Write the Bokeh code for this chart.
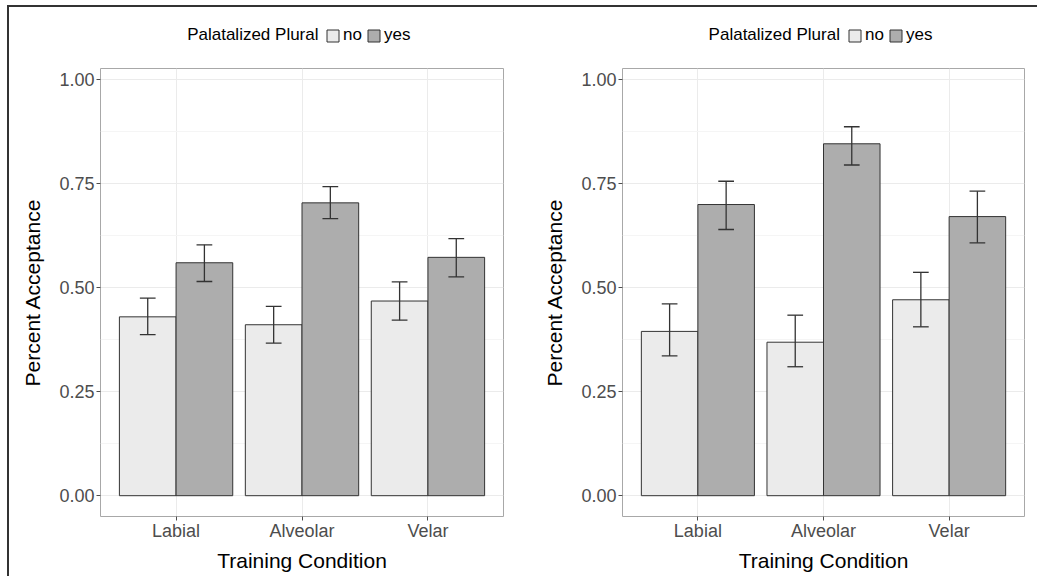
from bokeh.plotting import figure
from bokeh.layouts import row, column
from bokeh.models import (FixedTicker, Legend, LegendItem, Label, Range1d,
                          ColumnDataSource)
from bokeh.embed import file_html
from bokeh.resources import INLINE

categories = ["Labial", "Alveolar", "Velar"]
groups = ["no", "yes"]
legend_title = "Palatalized Plural"
x_title = "Training Condition"
y_title = "Percent Acceptance"
y_ticks = [0.0, 0.25, 0.5, 0.75, 1.0]
y_minor = [0.125, 0.375, 0.625, 0.875]
y_tick_labels = ["0.00", "0.25", "0.50", "0.75", "1.00"]

left_no = [0.430, 0.411, 0.468]
left_no_lower = [0.387, 0.367, 0.422]
left_no_upper = [0.475, 0.455, 0.514]
left_yes = [0.560, 0.704, 0.573]
left_yes_lower = [0.515, 0.666, 0.526]
left_yes_upper = [0.603, 0.743, 0.618]

right_no = [0.395, 0.369, 0.471]
right_no_lower = [0.336, 0.310, 0.406]
right_no_upper = [0.461, 0.434, 0.537]
right_yes = [0.700, 0.846, 0.671]
right_yes_lower = [0.640, 0.795, 0.608]
right_yes_upper = [0.756, 0.887, 0.732]

FONT = "Liberation Sans"
NO_COLOR = "#ebebeb"
YES_COLOR = "#adadad"
EDGE = "#333333"
COLORS = [NO_COLOR, YES_COLOR]
LEG_H = 67


def make_legend(width, series_vals):
    # strip above the panel; its frame is aligned with the panel's frame
    lf = figure(width=width, height=LEG_H, output_backend="svg",
                toolbar_location=None, x_range=Range1d(0, 403),
                y_range=Range1d(0, LEG_H), x_axis_type=None, y_axis_type=None,
                min_border=0, min_border_top=0, min_border_bottom=0)
    lf.outline_line_color = None
    lf.background_fill_alpha = 0
    lf.border_fill_alpha = 0
    lf.grid.visible = False
    pos = [i + 1 for i in range(len(categories))]
    items = []
    for name, col, vals in zip(groups, COLORS, series_vals):
        r = lf.vbar(x=pos, top=vals, width=0.45, fill_color=col,
                    line_color=EDGE, line_width=1, visible=False)
        items.append(LegendItem(label=name, renderers=[r]))
    legend = Legend(items=items, orientation="horizontal",
                    location=(225, LEG_H - 45), padding=0, margin=0,
                    spacing=4, label_standoff=3, glyph_width=15,
                    glyph_height=15, label_height=15, label_width=0,
                    label_text_font=FONT, label_text_font_size="17px",
                    label_text_color="black", background_fill_alpha=0,
                    border_line_color=None, inactive_fill_alpha=0)
    lf.add_layout(legend, "center")
    lf.add_layout(Label(x=218, y=LEG_H - 34, text=legend_title,
                        text_align="right", text_baseline="middle",
                        text_font=FONT, text_font_size="17px",
                        text_color="black"))
    return lf


def make_panel(no, no_lo, no_hi, yes, yes_lo, yes_hi, width, bl, br):
    p = figure(width=width, height=576 - LEG_H, output_backend="svg",
               toolbar_location=None, x_range=Range1d(0.4, 3.6),
               y_range=Range1d(-0.05, 1.027),
               min_border_left=bl, min_border_right=br,
               min_border_top=1, min_border_bottom=60)
    p.background_fill_color = "white"
    p.border_fill_alpha = 0
    p.outline_line_color = "#a8a8a8"
    p.outline_line_width = 1

    pos = [i + 1 for i in range(len(categories))]
    series = [(no, no_lo, no_hi, -0.225, NO_COLOR),
              (yes, yes_lo, yes_hi, 0.225, YES_COLOR)]
    for vals, lo, hi, off, col in series:
        xs = [x + off for x in pos]
        src = ColumnDataSource(dict(x=xs, top=vals, lo=lo, hi=hi,
                                    cl=[x - 0.0625 for x in xs],
                                    cr=[x + 0.0625 for x in xs]))
        p.vbar(x="x", top="top", bottom=0, width=0.45, source=src,
               fill_color=col, line_color=EDGE, line_width=1)
        p.segment(x0="x", x1="x", y0="lo", y1="hi", source=src,
                  line_color=EDGE, line_width=1.3)
        p.segment(x0="cl", x1="cr", y0="lo", y1="lo", source=src,
                  line_color=EDGE, line_width=1.3)
        p.segment(x0="cl", x1="cr", y0="hi", y1="hi", source=src,
                  line_color=EDGE, line_width=1.3)

    # axes
    p.xaxis.ticker = FixedTicker(ticks=pos)
    p.xaxis.major_label_overrides = {x: c for x, c in zip(pos, categories)}
    p.yaxis.ticker = FixedTicker(ticks=y_ticks, minor_ticks=y_minor)
    p.yaxis.major_label_overrides = {t: l for t, l in zip(y_ticks, y_tick_labels)}
    for ax in (p.xaxis[0], p.yaxis[0]):
        ax.axis_line_color = None
        ax.major_tick_line_color = "#4d4d4d"
        ax.major_tick_out = 4
        ax.major_tick_in = 0
        ax.minor_tick_line_color = None
        ax.major_label_text_font = FONT
        ax.major_label_text_font_size = "18px"
        ax.major_label_text_color = "#4d4d4d"
        ax.axis_label_text_font = FONT
        ax.axis_label_text_font_size = "21px"
        ax.axis_label_text_font_style = "normal"
        ax.axis_label_text_color = "black"
    p.xaxis.axis_label = x_title
    p.yaxis.axis_label = y_title
    p.xaxis.major_label_standoff = 0
    p.xaxis.axis_label_standoff = 5
    p.yaxis.major_label_standoff = 2
    p.yaxis.axis_label_standoff = 12

    # grid
    p.xgrid.grid_line_color = "#ebebeb"
    p.ygrid.grid_line_color = "#ebebeb"
    p.ygrid.minor_grid_line_color = "#f5f5f5"
    return p


l1 = make_legend(518, [left_no, left_yes])
p1 = make_panel(left_no, left_no_lower, left_no_upper,
                left_yes, left_yes_lower, left_yes_upper, 518, 100, 15)
l2 = make_legend(519, [right_no, right_yes])
p2 = make_panel(right_no, right_no_lower, right_no_upper,
                right_yes, right_yes_lower, right_yes_upper, 519, 104, 13)

bg = ("linear-gradient(#333333,#333333) 7px 5px / 2px 100% no-repeat, "
      "linear-gradient(#333333,#333333) 7px 5px / 100% 2px no-repeat, white")
layout = row(column(l1, p1, spacing=0), column(l2, p2, spacing=0),
             spacing=0, styles={"background": bg})

open("out.html", "w").write(file_html(layout, INLINE))
